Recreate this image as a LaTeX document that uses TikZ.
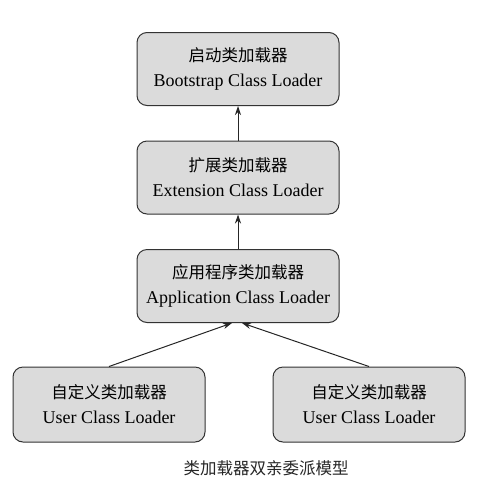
\documentclass[tikz,border=0pt]{standalone}
\usepackage{fontspec}
\setmainfont{Liberation Serif}
\newfontfamily\cjk{Noto Sans CJK SC}
\usetikzlibrary{positioning}
\usetikzlibrary{shapes,arrows.meta}
\newcommand{\cn}[1]{{\fontsize{16.5}{25}\selectfont\cjk #1}}
\tikzset{%
  loader/.style  = {draw=black!80, line width=1pt, fill=black!14,
    rounded corners=10pt, minimum height=73pt, minimum width=202pt,
    align=center, font=\fontsize{18}{25}\selectfont},
  user/.style    = {loader, minimum width=192pt, minimum height=75pt}, % leaf
  caption/.style = {font=\fontsize{16.5}{20}\selectfont\cjk, text=black!85}
}

\begin{document}
\begin{tikzpicture}[auto, node distance=108.5pt, >={Stealth[length=9pt,width=6pt]}]

  \useasboundingbox (0,0) rectangle (484pt,-483pt);

  \draw node at (238pt,-69pt) [loader] (bootstrap) {\cn{启动类加载器}\\Bootstrap Class Loader};
  \draw node [loader, below of=bootstrap] (extension) {\cn{扩展类加载器}\\Extension Class Loader};
  \draw node [loader, below of=extension] (application) {\cn{应用程序类加载器}\\Application Class Loader};
  \draw node at (109pt,-404.5pt) [user] (user1) {\cn{自定义类加载器}\\User Class Loader};
  \draw node at (369pt,-404.5pt) [user] (user2) {\cn{自定义类加载器}\\User Class Loader};

  \draw node at (266pt,-468pt) [caption] (title) {类加载器双亲委派模型};

  \draw[->, black!85, line width=1pt] (extension) -- (bootstrap);
  \draw[->, black!85, line width=1pt] (application) -- (extension);
  \draw[->, black!85, line width=1pt] (user1.north) -- ([xshift=-6pt]application.south);
  \draw[->, black!85, line width=1pt] (user2.north) -- ([xshift=4pt]application.south);

\end{tikzpicture}
\end{document}
